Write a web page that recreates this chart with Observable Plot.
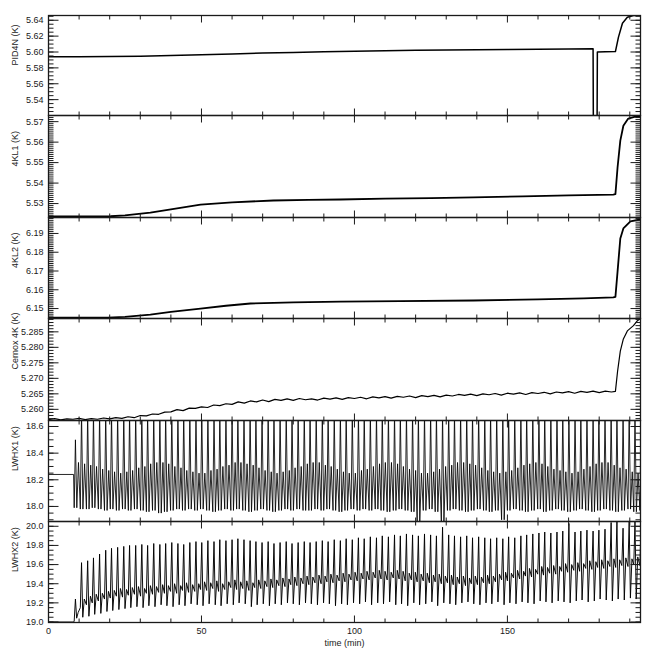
<!DOCTYPE html>
<html><head><meta charset="utf-8">
<script src="https://cdn.jsdelivr.net/npm/d3@7"></script>
<script src="https://cdn.jsdelivr.net/npm/@observablehq/plot@0.6"></script>
<style>
body{margin:0;background:#fff;}
#chart{position:relative;width:654px;height:654px;overflow:hidden;background:#fff;}
#chart svg{position:absolute;left:0;}
</style></head><body><div id="chart"></div>
<script>
// ---------- x axis ----------
const xDomain = [0, 193.5];
const xTicks = [0, 50, 100, 150];
const xMinorTicks = [10, 20, 30, 40, 60, 70, 80, 90, 110, 120, 130, 140, 160, 170, 180, 190];

// ---------- PID4N ----------
const pid4nTime  = [0, 10, 20, 30, 40, 50, 60, 70, 80, 90, 100, 110, 120, 130, 140, 150, 160, 170, 178.0, 178.1, 179.3, 179.4, 182.0, 185.3, 186.3, 187.6, 189.2, 191.2, 193.5];
const pid4nValue = [5.5940, 5.5940, 5.5942, 5.5948, 5.5956, 5.5966, 5.5976, 5.5986, 5.5995, 5.6003, 5.6010, 5.6016, 5.6021, 5.6025, 5.6029, 5.6032, 5.6035, 5.6038, 5.6040, 5.50, 5.50, 5.6000, 5.6002, 5.6005, 5.6188, 5.6363, 5.6438, 5.6460, 5.6460];
const pid4nTicks = [5.54, 5.56, 5.58, 5.60, 5.62, 5.64];

// ---------- 4KL1 ----------
const kl1Time  = [0, 17, 20.3, 25, 33.3, 40, 49.7, 60, 73.5, 85, 95.4, 110, 125, 138.9, 155, 170, 184.6, 185.3, 186.0, 186.9, 187.9, 189.5, 191.8, 193.5];
const kl1Value = [5.5237, 5.5237, 5.5238, 5.5242, 5.5256, 5.5272, 5.5295, 5.5306, 5.5315, 5.5318, 5.5320, 5.5324, 5.5327, 5.5330, 5.5335, 5.5340, 5.5344, 5.5346, 5.5476, 5.5607, 5.5680, 5.5715, 5.5724, 5.5726];
const kl1Ticks = [5.53, 5.54, 5.55, 5.56, 5.57];

// ---------- 4KL2 ----------
const kl2Time  = [0, 19.3, 25, 33.3, 40, 49.7, 58, 66, 80, 95.4, 115, 138.9, 160, 175, 184.6, 185.3, 186.0, 186.9, 187.9, 190.2, 193.5];
const kl2Value = [6.1452, 6.1452, 6.1456, 6.1468, 6.1482, 6.1500, 6.1515, 6.1527, 6.1533, 6.1537, 6.1540, 6.1543, 6.1549, 6.1554, 6.1559, 6.1562, 6.1697, 6.1873, 6.1927, 6.1964, 6.1975];
const kl2Ticks = [6.15, 6.16, 6.17, 6.18, 6.19];

// ---------- Cernox 4K ----------
const cernoxTime = [0, 2, 4, 6, 8, 10, 12, 14, 16, 18, 20, 22, 24, 26, 28, 30, 32, 34, 36, 38,
  40, 42, 44, 46, 48, 50, 52, 54, 56, 58, 60, 62, 64, 66, 68, 70, 72, 74, 76, 78,
  80, 82, 84, 86, 88, 90, 92, 94, 96, 98, 100, 102, 104, 106, 108, 110, 112, 114, 116, 118,
  120, 122, 124, 126, 128, 130, 132, 134, 136, 138, 140, 142, 144, 146, 148, 150, 152, 154, 156, 158,
  160, 162, 164, 166, 168, 170, 172, 174, 176, 178, 180, 182, 184,
  185.3, 186.0, 186.9, 187.9, 189.2, 191.2, 192.5, 193.5];
const cernoxValue = [5.2567, 5.2570, 5.2566, 5.2569, 5.2568, 5.2571, 5.2567, 5.2570, 5.2568, 5.2572,
  5.2569, 5.2573, 5.2571, 5.2576, 5.2573, 5.2580, 5.2579, 5.2585, 5.2584, 5.2591,
  5.2592, 5.2599, 5.2596, 5.2604, 5.2603, 5.2608, 5.2606, 5.2614, 5.2612, 5.2618,
  5.2616, 5.2624, 5.2620, 5.2627, 5.2624, 5.2630, 5.2625, 5.2632, 5.2629, 5.2634,
  5.2629, 5.2635, 5.2631, 5.2634, 5.2630, 5.2636, 5.2633, 5.2637, 5.2632, 5.2638,
  5.2635, 5.2639, 5.2634, 5.2640, 5.2637, 5.2641, 5.2636, 5.2642, 5.2639, 5.2643,
  5.2638, 5.2644, 5.2641, 5.2645, 5.2640, 5.2646, 5.2643, 5.2648, 5.2645, 5.2649,
  5.2644, 5.2650, 5.2647, 5.2651, 5.2646, 5.2652, 5.2649, 5.2653, 5.2648, 5.2654,
  5.2651, 5.2655, 5.2650, 5.2656, 5.2653, 5.2657, 5.2652, 5.2658, 5.2655, 5.2659,
  5.2654, 5.2659, 5.2656,
  5.2658, 5.2722, 5.2788, 5.2827, 5.2853, 5.2870, 5.2886, 5.2893];
const cernoxTicks = [5.260, 5.265, 5.270, 5.275, 5.280, 5.285];

// ---------- heat-switch cycles (shared cycle start times, min) ----------
const cycleTime = [8.4, 10.4, 12.4, 14.3, 16.3, 18.3, 20.2, 22.2, 24.2, 26.1,
  28.1, 30.1, 32.0, 34.0, 36.0, 37.9, 39.9, 41.9, 43.8, 45.8,
  47.8, 49.7, 51.7, 53.7, 55.6, 57.6, 59.6, 61.5, 63.5, 65.5,
  67.4, 69.4, 71.4, 73.3, 75.3, 77.3, 79.2, 81.2, 83.2, 85.1,
  87.1, 89.1, 91.0, 93.0, 95.0, 96.9, 98.9, 100.9, 102.8, 104.8,
  106.8, 108.7, 110.7, 112.7, 114.6, 116.6, 118.6, 120.5, 122.5, 124.5,
  126.4, 128.4, 130.4, 132.3, 134.3, 136.3, 138.2, 140.2, 142.2, 144.1,
  146.1, 148.1, 150.0, 152.0, 154.0, 155.9, 157.9, 159.9, 161.8, 163.8,
  165.8, 167.7, 169.7, 171.7, 173.6, 175.6, 177.6, 179.5, 181.5, 183.5,
  185.4, 187.4, 189.4, 191.3, 193.3];

// ---------- LWHX1 ----------
const lwhx1StartTime  = [0, 8.2];
const lwhx1StartValue = [18.24, 18.24];
const lwhx1Phase = [0, 0.4, 0.85, 1.4];
const lwhx1Peak = [18.50, 18.70, 18.70, 18.70, 18.70, 18.70, 18.70, 18.70, 18.70, 18.70,
  18.70, 18.70, 18.70, 18.70, 18.70, 18.70, 18.70, 18.70, 18.70, 18.70,
  18.70, 18.70, 18.70, 18.70, 18.70, 18.70, 18.70, 18.70, 18.70, 18.70,
  18.70, 18.70, 18.70, 18.70, 18.70, 18.70, 18.70, 18.70, 18.70, 18.70,
  18.70, 18.70, 18.70, 18.70, 18.70, 18.70, 18.70, 18.70, 18.70, 18.70,
  18.70, 18.70, 18.70, 18.70, 18.70, 18.70, 18.70, 18.70, 18.70, 18.70,
  18.70, 18.70, 18.70, 18.70, 18.70, 18.70, 18.70, 18.70, 18.70, 18.70,
  18.70, 18.70, 18.70, 18.70, 18.70, 18.70, 18.70, 18.70, 18.70, 18.70,
  18.70, 18.70, 18.70, 18.70, 18.70, 18.70, 18.70, 18.70, 18.70, 18.70,
  18.70, 18.70, 18.70, 18.70, 18.70];
const lwhx1Low = [17.99, 17.98, 17.98, 17.99, 17.98, 17.97, 17.98, 17.97, 17.98, 17.97,
  17.98, 17.97, 17.96, 17.97, 17.95, 17.96, 17.97, 17.98, 17.97, 17.98,
  17.97, 17.98, 17.97, 17.96, 17.97, 17.98, 17.97, 17.98, 17.97, 17.96,
  17.97, 17.98, 17.97, 17.96, 17.97, 17.98, 17.97, 17.98, 17.97, 17.97,
  17.98, 17.97, 17.98, 17.97, 17.96, 17.97, 17.98, 17.97, 17.98, 17.97,
  17.98, 17.97, 17.96, 17.97, 17.98, 17.97, 17.96, 17.88, 17.97, 17.98,
  17.96, 17.89, 17.97, 17.98, 17.97, 17.96, 17.97, 17.98, 17.97, 17.96,
  17.97, 17.90, 17.97, 17.98, 17.97, 17.96, 17.97, 17.98, 17.96, 17.97,
  17.98, 17.97, 17.96, 17.97, 17.98, 17.97, 17.96, 17.97, 17.98, 17.97,
  17.96, 17.97, 17.98, 17.96, 17.97];
const lwhx1Mid = [18.33, 18.32, 18.31, 18.30, 18.28, 18.27, 18.26, 18.25, 18.26, 18.27,
  18.29, 18.30, 18.32, 18.33, 18.33, 18.32, 18.30, 18.29, 18.27, 18.26,
  18.25, 18.25, 18.27, 18.28, 18.30, 18.31, 18.33, 18.33, 18.32, 18.31,
  18.29, 18.27, 18.26, 18.25, 18.26, 18.27, 18.29, 18.30, 18.32, 18.33,
  18.33, 18.31, 18.30, 18.28, 18.26, 18.25, 18.25, 18.27, 18.28, 18.30,
  18.32, 18.33, 18.33, 18.32, 18.30, 18.28, 18.27, 18.25, 18.25, 18.26,
  18.28, 18.30, 18.31, 18.33, 18.33, 18.32, 18.31, 18.29, 18.27, 18.26,
  18.25, 18.26, 18.27, 18.29, 18.31, 18.32, 18.33, 18.32, 18.30, 18.28,
  18.27, 18.26, 18.25, 18.26, 18.28, 18.30, 18.32, 18.33, 18.33, 18.31,
  18.29, 18.28, 18.26, 18.25, 18.27];
const lwhx1Ticks = [18.0, 18.2, 18.4, 18.6];

// ---------- LWHX2 ----------
const lwhx2StartTime  = [0, 8.2];
const lwhx2StartValue = [19.0, 19.0];
const lwhx2Phase = [0, 0.4, 0.8, 1.3];
const lwhx2Peak = [19.24, 19.62, 19.64, 19.67, 19.71, 19.75, 19.77, 19.78, 19.79, 19.80,
  19.80, 19.81, 19.80, 19.82, 19.81, 19.82, 19.83, 19.82, 19.81, 19.83,
  19.84, 19.83, 19.85, 19.84, 19.86, 19.85, 19.86, 19.87, 19.86, 19.85,
  19.84, 19.83, 19.84, 19.82, 19.83, 19.84, 19.82, 19.83, 19.84, 19.83,
  19.84, 19.85, 19.84, 19.86, 19.85, 19.87, 19.86, 19.88, 19.87, 19.89,
  19.88, 19.90, 19.89, 19.91, 19.90, 19.92, 19.91, 19.90, 19.92, 19.91,
  19.90, 19.99, 19.91, 19.90, 19.89, 19.90, 19.88, 19.89, 19.88, 19.87,
  19.88, 19.87, 19.89, 19.88, 19.90, 19.91, 19.92, 19.93, 19.94, 19.93,
  19.94, 19.95, 20.03, 19.94, 19.95, 19.96, 19.95, 19.96, 19.97, 20.04,
  20.05, 19.98, 20.05, 20.06, 20.05];
const lwhx2Low = [19.04, 19.05, 19.06, 19.08, 19.09, 19.11, 19.12, 19.13, 19.14, 19.15,
  19.16, 19.15, 19.17, 19.16, 19.18, 19.17, 19.16, 19.18, 19.17, 19.19,
  19.18, 19.17, 19.19, 19.18, 19.17, 19.19, 19.18, 19.20, 19.19, 19.16,
  19.18, 19.19, 19.17, 19.19, 19.18, 19.20, 19.19, 19.18, 19.20, 19.19,
  19.18, 19.20, 19.19, 19.17, 19.19, 19.18, 19.20, 19.19, 19.21, 19.18,
  19.20, 19.19, 19.21, 19.18, 19.19, 19.17, 19.20, 19.18, 19.19, 19.21,
  19.17, 19.20, 19.19, 19.18, 19.20, 19.21, 19.19, 19.18, 19.20, 19.19,
  19.21, 19.18, 19.20, 19.19, 19.21, 19.20, 19.19, 19.22, 19.21, 19.20,
  19.22, 19.21, 19.20, 19.22, 19.23, 19.21, 19.22, 19.24, 19.23, 19.22,
  19.24, 19.23, 19.25, 19.24, 19.26];
const lwhx2Mid = [19.01, 19.15, 19.18, 19.20, 19.22, 19.24, 19.25, 19.27, 19.26, 19.28,
  19.29, 19.27, 19.30, 19.29, 19.31, 19.30, 19.32, 19.30, 19.33, 19.31,
  19.32, 19.34, 19.33, 19.35, 19.32, 19.34, 19.36, 19.34, 19.35, 19.33,
  19.36, 19.35, 19.37, 19.36, 19.38, 19.37, 19.39, 19.38, 19.40, 19.39,
  19.41, 19.40, 19.42, 19.41, 19.43, 19.42, 19.44, 19.43, 19.45, 19.44,
  19.46, 19.45, 19.44, 19.46, 19.45, 19.43, 19.44, 19.42, 19.43, 19.41,
  19.42, 19.40, 19.41, 19.39, 19.40, 19.38, 19.40, 19.39, 19.41, 19.40,
  19.42, 19.44, 19.43, 19.46, 19.45, 19.48, 19.47, 19.50, 19.49, 19.51,
  19.50, 19.53, 19.52, 19.54, 19.53, 19.56, 19.55, 19.57, 19.56, 19.58,
  19.57, 19.59, 19.58, 19.60, 19.59];
const lwhx2Mid2 = [19.10, 19.24, 19.27, 19.29, 19.30, 19.32, 19.33, 19.35, 19.34, 19.36,
  19.37, 19.35, 19.38, 19.37, 19.39, 19.38, 19.40, 19.38, 19.41, 19.39,
  19.40, 19.42, 19.41, 19.43, 19.40, 19.42, 19.44, 19.42, 19.43, 19.41,
  19.44, 19.43, 19.45, 19.44, 19.46, 19.45, 19.47, 19.46, 19.48, 19.47,
  19.49, 19.48, 19.50, 19.49, 19.51, 19.50, 19.52, 19.51, 19.53, 19.52,
  19.54, 19.53, 19.52, 19.54, 19.53, 19.51, 19.52, 19.50, 19.51, 19.49,
  19.50, 19.48, 19.49, 19.47, 19.48, 19.46, 19.48, 19.47, 19.49, 19.48,
  19.50, 19.52, 19.51, 19.54, 19.53, 19.56, 19.55, 19.58, 19.57, 19.59,
  19.58, 19.61, 19.60, 19.62, 19.61, 19.64, 19.63, 19.65, 19.64, 19.66,
  19.65, 19.67, 19.66, 19.68, 19.67];
const lwhx2Ticks = [19.0, 19.2, 19.4, 19.6, 19.8, 20.0];

// ---------- build tables ----------
const zipRows = (ts, vs) => ts.map((t, i) => ({t, v: vs[i]}));
function cycleRows(startT, startV, phase, cols) {
  const rows = zipRows(startT, startV);
  cycleTime.forEach((t, i) => cols.forEach((c, k) => rows.push({t: t + phase[k], v: c[i]})));
  return rows;
}
const lwhx1Rows = cycleRows(lwhx1StartTime, lwhx1StartValue, lwhx1Phase, [lwhx1Low, lwhx1Peak, lwhx1Low, lwhx1Mid]);
const lwhx2Rows = cycleRows(lwhx2StartTime, lwhx2StartValue, lwhx2Phase, [lwhx2Mid, lwhx2Peak, lwhx2Low, lwhx2Mid2]);

const panels = [
  {top: 15,  bottom: 115, domain: [5.52, 5.646],     ticks: pid4nTicks,  minor: 0.005, fmt: ".2f", label: "PID4N (K)",     rows: zipRows(pid4nTime, pid4nValue), sw: 1.5},
  {top: 115, bottom: 217, domain: [5.5232, 5.573],   ticks: kl1Ticks,    minor: 0.001, fmt: ".2f", label: "4KL1 (K)",      rows: zipRows(kl1Time, kl1Value), sw: 1.8},
  {top: 217, bottom: 318, domain: [6.1447, 6.1985],  ticks: kl2Ticks,    minor: 0.001, fmt: ".2f", label: "4KL2 (K)",      rows: zipRows(kl2Time, kl2Value), sw: 1.8},
  {top: 318, bottom: 420, domain: [5.2564, 5.2893],  ticks: cernoxTicks, minor: 0.001, fmt: ".3f", label: "Cernox 4K (K)", rows: zipRows(cernoxTime, cernoxValue), sw: 1.2},
  {top: 420, bottom: 521, domain: [17.887, 18.645],  ticks: lwhx1Ticks,  minor: 0.05,  fmt: ".1f", label: "LWHX1 (K)",     rows: lwhx1Rows, sw: 0.85},
  {top: 521, bottom: 622, domain: [18.995, 20.05],   ticks: lwhx2Ticks,  minor: 0.05,  fmt: ".1f", label: "LWHX2 (K)",     rows: lwhx2Rows, sw: 0.95, last: true}
];

const ink = "#1a1a1a";
const W = 654, ML = 48, MR = 14, innerW = W - ML - MR;
const chart = document.getElementById("chart");

panels.forEach(p => {
  const mt = 4, mb = p.last ? 40 : 4;
  const innerH = p.bottom - p.top;
  const [y0, y1] = p.domain, [x0, x1] = xDomain;
  const xPx = (x1 - x0) / innerW, yPx = (y1 - y0) / innerH;   // data units per pixel (tick lengths)
  const n0 = Math.ceil(y0 / p.minor - 1e-6), n1 = Math.floor(y1 / p.minor + 1e-6);
  const minors = d3.range(n0, n1 + 1).map(k => +(k * p.minor).toFixed(6)).filter(v => v >= y0 && v <= y1);
  const yTick = (data, atX, dir, len) => Plot.link(data, {x1: atX, x2: atX + dir * len * xPx, y1: d => d, y2: d => d, stroke: ink, strokeWidth: 1});
  const xTick = (data, atY, dir, len) => Plot.link(data, {y1: atY, y2: atY + dir * len * yPx, x1: d => d, x2: d => d, stroke: ink, strokeWidth: 1});
  const marks = [
    Plot.line(p.rows, {x: "t", y: "v", stroke: "#000", strokeWidth: p.sw, clip: true}),
    Plot.frame({stroke: ink, strokeWidth: 1.3}),
    yTick(p.ticks, x0, 1, 10),
    yTick(minors, x0, 1, 5),
    yTick(p.ticks, x1, -1, 10),
    yTick(minors, x1, -1, 5),
    xTick(xTicks, y0, 1, 7),
    xTick(xMinorTicks, y0, 1, 4),
    xTick(xTicks, y1, -1, 7),
    xTick(xMinorTicks, y1, -1, 4),
    Plot.axisY(p.ticks, {tickSize: 0, tickPadding: 5, tickFormat: d3.format(p.fmt), label: null}),
    Plot.text([p.label], {frameAnchor: "left", rotate: -90, dx: -33, text: d => d})
  ];
  if (p.last) {
    marks.push(Plot.axisX(xTicks, {tickSize: 0, tickPadding: 5, label: null}));
    marks.push(Plot.text(["time (min)"], {frameAnchor: "bottom", dy: 23, text: d => d}));
  }
  const svg = Plot.plot({
    width: W,
    height: innerH + mt + mb,
    marginLeft: ML, marginRight: MR, marginTop: mt, marginBottom: mb,
    x: {domain: xDomain, axis: null},
    y: {domain: p.domain, axis: null},
    style: {background: "transparent", overflow: "visible", fontSize: "9px", fontFamily: "'Liberation Sans', Arial, sans-serif", color: ink},
    marks
  });
  svg.style.top = (p.top - mt) + "px";
  chart.appendChild(svg);
});
</script></body></html>
